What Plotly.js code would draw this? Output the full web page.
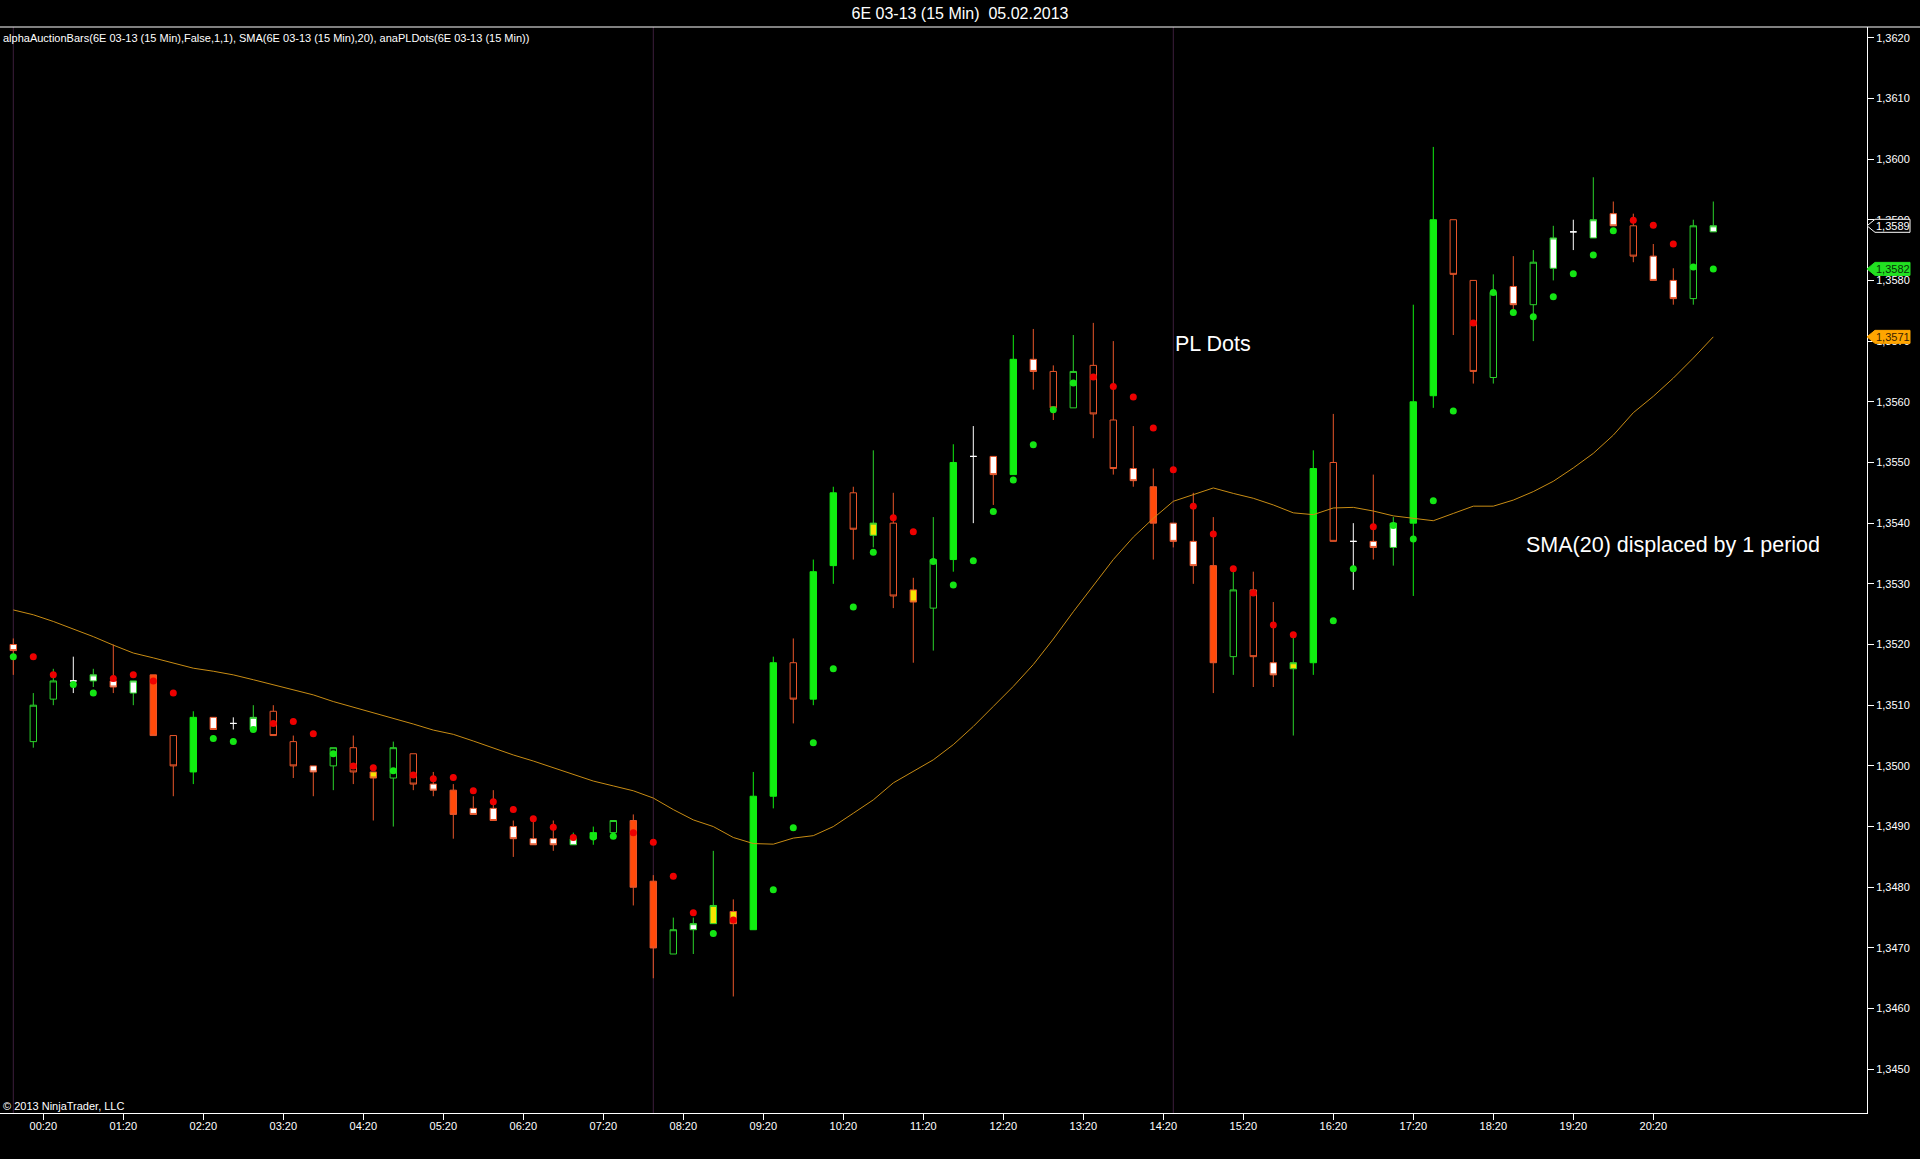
<!DOCTYPE html>
<html>
<head>
<meta charset="utf-8">
<script src="https://cdn.plot.ly/plotly-3.0.1.min.js"></script>
<style>
  html, body { margin: 0; padding: 0; background: #000; }
  #chart { width: 1920px; height: 1159px; }
</style>
</head>
<body>
<div id="chart"></div>
<script>
// 6E 03-13, 15 min bars, 05.02.2013 (bar index 0..85)
const BAR_STYLE = [
  'WO','GH','GH','X','WG','WO','WG','OF','OH','GF',
  'WO','X','WG','OH','OH','WO','GH','OH','YO','GH',
  'OH','WO','OF','WO','WO','WO','WO','WO','WG','GF',
  'GH','OF','OF','GH','WG','YG','YO','GF','GF','OH',
  'GF','GF','OH','YG','OH','YO','GH','GF','X','WO',
  'GF','WO','OH','GH','OH','OH','WO','OF','WO','WO',
  'OF','GH','OH','WO','YG','GF','OH','X','WO','WG',
  'GF','GF','OH','OH','GH','WO','GH','WG','X','WG',
  'WO','OH','WO','WO','GH','WG'
];
const OPEN = [
  1.3520,1.3504,1.3511,1.3514,1.3514,1.3514,1.3512,1.3515,1.3505,1.3499,
  1.3508,1.3507,1.3506,1.3509,1.3504,1.3500,1.3500,1.3503,1.3499,1.3498,
  1.3502,1.3497,1.3496,1.3493,1.3493,1.3490,1.3488,1.3488,1.3487,1.3488,
  1.3489,1.3491,1.3481,1.3469,1.3473,1.3474,1.3476,1.3473,1.3495,1.3517,
  1.3511,1.3533,1.3545,1.3538,1.3540,1.3529,1.3526,1.3534,1.3551,1.3551,
  1.3548,1.3567,1.3565,1.3559,1.3566,1.3557,1.3549,1.3546,1.3540,1.3537,
  1.3533,1.3518,1.3529,1.3517,1.3516,1.3517,1.3550,1.3537,1.3537,1.3536,
  1.3540,1.3561,1.3590,1.3580,1.3564,1.3579,1.3576,1.3582,1.3588,1.3587,
  1.3591,1.3589,1.3584,1.3580,1.3577,1.3588
];
const HIGH = [
  1.3521,1.3512,1.3516,1.3518,1.3516,1.3520,1.3514,1.3515,1.3505,1.3509,
  1.3508,1.3508,1.3510,1.3510,1.3505,1.3500,1.3503,1.3505,1.3499,1.3504,
  1.3502,1.3499,1.3497,1.3495,1.3496,1.3491,1.3491,1.3491,1.3489,1.3490,
  1.3491,1.3492,1.3482,1.3475,1.3475,1.3486,1.3478,1.3499,1.3518,1.3521,
  1.3534,1.3546,1.3546,1.3552,1.3545,1.3531,1.3541,1.3553,1.3556,1.3551,
  1.3571,1.3572,1.3566,1.3571,1.3573,1.3570,1.3556,1.3549,1.3540,1.3545,
  1.3541,1.3532,1.3532,1.3527,1.3522,1.3552,1.3558,1.3540,1.3548,1.3541,
  1.3576,1.3602,1.3590,1.3580,1.3581,1.3584,1.3585,1.3589,1.3590,1.3597,
  1.3593,1.3591,1.3586,1.3582,1.3590,1.3593
];
const LOW = [
  1.3515,1.3503,1.3510,1.3512,1.3513,1.3512,1.3510,1.3505,1.3495,1.3497,
  1.3506,1.3506,1.3506,1.3505,1.3498,1.3495,1.3496,1.3497,1.3491,1.3490,
  1.3496,1.3495,1.3488,1.3492,1.3491,1.3485,1.3487,1.3486,1.3487,1.3487,
  1.3489,1.3477,1.3465,1.3469,1.3469,1.3474,1.3462,1.3473,1.3493,1.3507,
  1.3510,1.3530,1.3534,1.3536,1.3526,1.3517,1.3519,1.3532,1.3540,1.3543,
  1.3548,1.3562,1.3557,1.3559,1.3554,1.3548,1.3546,1.3534,1.3536,1.3530,
  1.3512,1.3515,1.3513,1.3513,1.3505,1.3515,1.3537,1.3529,1.3534,1.3533,
  1.3528,1.3559,1.3571,1.3563,1.3563,1.3575,1.3570,1.3580,1.3585,1.3587,
  1.3589,1.3583,1.3580,1.3576,1.3576,1.3588
];
const CLOSE = [
  1.3519,1.3510,1.3514,1.3514,1.3515,1.3513,1.3514,1.3505,1.3500,1.3508,
  1.3506,1.3507,1.3508,1.3505,1.3500,1.3499,1.3503,1.3499,1.3498,1.3503,
  1.3497,1.3496,1.3492,1.3492,1.3491,1.3488,1.3487,1.3487,1.3488,1.3489,
  1.3491,1.3480,1.3470,1.3473,1.3474,1.3477,1.3474,1.3495,1.3517,1.3511,
  1.3532,1.3545,1.3539,1.3540,1.3528,1.3527,1.3534,1.3550,1.3551,1.3548,
  1.3567,1.3565,1.3559,1.3565,1.3558,1.3549,1.3547,1.3540,1.3537,1.3533,
  1.3517,1.3529,1.3518,1.3515,1.3517,1.3549,1.3537,1.3537,1.3536,1.3540,
  1.3560,1.3590,1.3581,1.3565,1.3578,1.3576,1.3583,1.3587,1.3588,1.3590,
  1.3589,1.3584,1.3580,1.3577,1.3589,1.3589
];
// anaPLDots values (null = dot hidden inside the bar body) and their colour
const PL_DOT = [
  1.3518,1.3518,1.3515,1.35134,1.3512,1.35144,1.3515,1.3514,1.3512,null,
  1.35045,1.3504,1.3506,1.3507,1.35073,1.35053,1.3502,1.3500,1.34997,1.34992,
  1.34985,1.34979,1.34981,1.34959,1.34941,1.34928,1.34913,1.34899,1.34882,1.34883,
  1.34884,1.3489,1.34874,1.34818,1.34758,1.34724,1.34746,null,1.34796,1.34898,
  1.35038,1.3516,1.35262,1.35352,1.35409,1.35386,1.35337,1.35298,1.35338,1.35419,
  1.35471,1.35529,1.35587,1.35631,1.35641,1.35625,1.35608,1.35557,1.35488,1.35428,
  1.35382,1.35325,1.35285,1.35232,1.35216,null,1.35239,1.35325,1.35394,1.35396,
  1.35374,1.35437,1.35585,1.3573,1.3578,1.35747,1.3574,1.35773,1.35811,1.35842,
  1.35882,1.35899,1.35891,1.3586,1.35822,1.35819
];
const PL_SIDE = [
  'G','R','R','G','G','R','R','R','R','G',
  'G','G','G','R','R','R','G','R','R','G',
  'R','R','R','R','R','R','R','R','R','G',
  'G','R','R','R','R','G','R','G','G','G',
  'G','G','G','G','R','R','G','G','G','G',
  'G','G','G','G','R','R','R','R','R','R',
  'R','R','R','R','R','G','G','G','R','G',
  'G','G','G','R','G','G','G','G','G','G',
  'G','R','R','R','G','G'
];
// SMA(20) displaced by 1 period
const SMA20 = [
  1.35257,1.35249,1.35238,1.35226,1.35213,1.35199,1.35186,1.35178,1.35169,1.35161,
  1.35156,1.35150,1.35142,1.35134,1.35126,1.35117,1.35106,1.35097,1.35087,1.35079,
  1.35069,1.35059,1.35052,1.35041,1.35029,1.35018,1.35008,1.34997,1.34986,1.34975,
  1.34967,1.34959,1.34947,1.34928,1.34911,1.34900,1.34882,1.34872,1.34871,1.34881,
  1.34885,1.34900,1.34922,1.34944,1.34972,1.34991,1.35010,1.35035,1.35065,1.35098,
  1.35131,1.35167,1.35209,1.35254,1.35297,1.35340,1.35377,1.35408,1.35436,1.35447,
  1.35458,1.35449,1.35441,1.35430,1.35417,1.35414,1.35425,1.35426,1.35420,1.35412,
  1.35408,1.35404,1.35416,1.35428,1.35428,1.35438,1.35452,1.35469,1.35491,1.35515,
  1.35545,1.35582,1.35609,1.35639,1.35672,1.35707
];
const SESSION_BREAKS = [0, 32, 58];
const TIME_TICKS = [1.5,5.5,9.5,13.5,17.5,21.5,25.5,29.5,33.5,37.5,41.5,45.5,49.5,53.5,57.5,61.5,66,70,74,78,82];
const TIME_LABELS = ['00:20','01:20','02:20','03:20','04:20','05:20','06:20','07:20','08:20','09:20','10:20',
  '11:20','12:20','13:20','14:20','15:20','16:20','17:20','18:20','19:20','20:20'];

const FONT = 'Liberation Sans, Arial, sans-serif';
const GREEN = '#10ee10', ORANGE = '#ff4a0a', ORLINE = '#e8552a', YELLOW = '#f5e400';
const STYLES = {
  GF: { line: GREEN, fill: GREEN },
  GH: { line: '#2ad22a', fill: '#000000' },
  WG: { line: '#2ad22a', fill: '#ffffff' },
  YG: { line: '#2ad22a', fill: YELLOW },
  OF: { line: ORLINE, fill: ORANGE },
  OH: { line: ORLINE, fill: '#000000' },
  WO: { line: ORLINE, fill: '#ffffff' },
  YO: { line: ORLINE, fill: YELLOW },
  X:  { line: '#ffffff', fill: '#ffffff' },
};

const idx = BAR_STYLE.map((_, i) => i);
const traces = Object.keys(STYLES).map((k) => {
  const sel = idx.filter((i) => BAR_STYLE[i] === k);
  const s = { line: { color: STYLES[k].line, width: 1 }, fillcolor: STYLES[k].fill };
  return {
    type: 'candlestick', x: sel,
    open: sel.map((i) => OPEN[i]), high: sel.map((i) => HIGH[i]),
    low: sel.map((i) => LOW[i]), close: sel.map((i) => CLOSE[i]),
    increasing: s, decreasing: s, whiskerwidth: 0,
    hoverinfo: 'skip', showlegend: false,
  };
});

traces.push({
  x: idx, y: SMA20, mode: 'lines', type: 'scatter',
  line: { color: '#c88c14', width: 1 }, hoverinfo: 'skip', showlegend: false,
});

[['R', '#ee0000'], ['G', '#14e614']].forEach(([side, col]) => {
  const sel = idx.filter((i) => PL_SIDE[i] === side && PL_DOT[i] !== null);
  traces.push({
    x: sel, y: sel.map((i) => PL_DOT[i]), mode: 'markers', type: 'scatter',
    marker: { color: col, size: 7, line: { width: 0 } },
    hoverinfo: 'skip', showlegend: false,
  });
});

const last = idx.length - 1;
const fmt = (v) => v.toFixed(4).replace('.', ',');
const TAGS = [
  { v: CLOSE[last], bg: '#000000', border: '#ffffff', txt: '#ffffff' },
  { v: PL_DOT[last], bg: '#22e022', border: '#22e022', txt: '#063006' },
  { v: SMA20[last], bg: '#ffa500', border: '#ffa500', txt: '#3a2200' },
];

const shapes = SESSION_BREAKS.map((b) => ({
  type: 'line', xref: 'x', yref: 'paper', x0: b, x1: b, y0: 0, y1: 1,
  line: { color: '#3d1f3d', width: 1 }, layer: 'below',
}));
shapes.push({
  type: 'line', xref: 'paper', yref: 'paper', x0: 0, x1: 1920 / 1867, y0: 1, y1: 1,
  line: { color: '#ffffff', width: 1 },
});
TAGS.forEach((t) => shapes.push({
  type: 'path', xref: 'paper', yref: 'y', xsizemode: 'pixel', ysizemode: 'pixel',
  xanchor: 1, yanchor: t.v, path: 'M0,0L8,6.5L43,6.5L43,-6.5L8,-6.5Z',
  fillcolor: t.bg, line: { color: t.border, width: 1 }, layer: 'above',
}));

const annotations = [
  {
    text: 'alphaAuctionBars(6E 03-13 (15 Min),False,1,1), SMA(6E 03-13 (15 Min),20), anaPLDots(6E 03-13 (15 Min))',
    xref: 'paper', yref: 'paper', x: 0, y: 1, xanchor: 'left', yanchor: 'middle',
    xshift: 1, yshift: -11, showarrow: false, font: { family: FONT, size: 11, color: '#ffffff' },
  },
  {
    text: '\u00a9 2013 NinjaTrader, LLC',
    xref: 'paper', yref: 'paper', x: 0, y: 0, xanchor: 'left', yanchor: 'middle',
    xshift: 1, yshift: 7, showarrow: false, font: { family: FONT, size: 11, color: '#ffffff' },
  },
  {
    text: 'PL Dots', xref: 'x', yref: 'y', x: 58.0, y: 1.35694, xanchor: 'left', yanchor: 'middle',
    yshift: 1, showarrow: false, font: { family: FONT, size: 21.5, color: '#ffffff' },
  },
  {
    text: 'SMA(20) displaced by 1 period', xref: 'x', yref: 'y', x: 75.55, y: 1.35366,
    xanchor: 'left', yanchor: 'middle', yshift: -1, showarrow: false,
    font: { family: FONT, size: 21.5, color: '#ffffff' },
  },
];
TAGS.forEach((t) => annotations.push({
  text: fmt(t.v), xref: 'paper', yref: 'y', x: 1, y: t.v, xanchor: 'center', yanchor: 'middle',
  xshift: 25.5, showarrow: false, font: { family: FONT, size: 11, color: t.txt },
}));

const layout = {
  width: 1920, height: 1159,
  margin: { l: 0, r: 53, t: 27, b: 46, pad: 0 },
  paper_bgcolor: '#000000', plot_bgcolor: '#000000',
  font: { family: FONT, size: 11, color: '#ffffff' },
  separators: ',.',
  showlegend: false,
  boxgap: 0.68, boxgroupgap: 0, boxmode: 'overlay',
  title: {
    text: '6E 03-13 (15 Min)\u00a0 05.02.2013', xref: 'container', yref: 'container',
    x: 0.5, xanchor: 'center', y: 1 - 13 / 1159, yanchor: 'middle',
    font: { family: FONT, size: 16, color: '#ffffff' },
  },
  xaxis: {
    range: [-0.665, 92.685], rangeslider: { visible: false },
    showgrid: false, zeroline: false, showline: true, linecolor: '#ffffff', linewidth: 1,
    ticks: 'outside', ticklen: 6, tickcolor: '#ffffff', tickwidth: 1,
    tickmode: 'array', tickvals: TIME_TICKS, ticktext: TIME_LABELS, ticklabelstandoff: -3,
    tickfont: { family: FONT, size: 11, color: '#ffffff' }, fixedrange: true,
  },
  yaxis: {
    side: 'right', range: [1.34428, 1.362176],
    showgrid: false, zeroline: false, showline: true, linecolor: '#ffffff', linewidth: 1,
    ticks: 'outside', ticklen: 6, tickcolor: '#ffffff', tickwidth: 1,
    tick0: 1.345, dtick: 0.001, tickformat: '.4f',
    tickfont: { family: FONT, size: 11, color: '#ffffff' }, fixedrange: true,
  },
  shapes, annotations,
};

Plotly.newPlot('chart', traces, layout, { displayModeBar: false, staticPlot: true });
</script>
</body>
</html>
